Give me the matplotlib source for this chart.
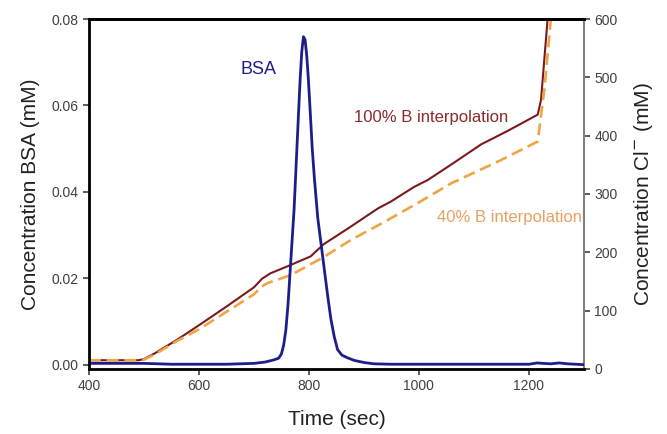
import matplotlib
matplotlib.use("Agg")
import matplotlib.pyplot as plt

plt.rcParams["font.family"] = ["Liberation Sans", "DejaVu Sans"]

# BSA concentration (mM), left axis
bsa_time = [400, 450, 500, 550, 600, 650, 700, 720, 736, 745, 750, 754, 758, 762,
            767, 773, 777, 781, 784, 787, 790, 793, 796, 799, 803, 806, 810, 816,
            822, 828, 834, 840, 846, 852, 860, 870, 882, 900, 918, 950, 1000, 1100,
            1200, 1215, 1225, 1240, 1255, 1270, 1285, 1300]
bsa_val = [0.0003, 0.0003, 0.0003, 0.0001, 0.0001, 0.0001, 0.0003, 0.0006, 0.0011,
           0.0015, 0.0025, 0.0045, 0.008, 0.014, 0.024, 0.036, 0.047, 0.058, 0.066,
           0.0725, 0.0759, 0.0752, 0.0715, 0.066, 0.057, 0.050, 0.043, 0.034, 0.028,
           0.022, 0.016, 0.0105, 0.0065, 0.0035, 0.0022, 0.0016, 0.0010, 0.0005,
           0.0002, 0.0001, 0.0001, 0.0001, 0.0001, 0.0004, 0.0003, 0.0002, 0.0004,
           0.0002, 0.0001, 0.0]

# chloride concentration (mM), right axis
cl100_time = [400, 490, 500, 520, 560, 600, 650, 700, 715, 730, 766, 803, 827, 876,
              925, 949, 991, 1016, 1058, 1113, 1161, 1216, 1222, 1234, 1240]
cl100_val = [15, 15, 17, 27, 50, 75, 107, 140, 155, 164, 178, 193, 214, 244,
             275, 287, 312, 324, 350, 385, 408, 436, 461, 600, 650]

cl40_time = [400, 490, 500, 520, 560, 600, 650, 700, 712, 724, 767, 827, 876, 937,
             997, 1058, 1149, 1216, 1228, 1240]
cl40_val = [15, 15, 16, 25, 48, 68, 98, 128, 140, 147, 161, 192, 221, 252,
            284, 318, 358, 390, 478, 600]

x_ticks = [400, 600, 800, 1000, 1200]
left_ticks = [0.00, 0.02, 0.04, 0.06, 0.08]
right_ticks = [0, 100, 200, 300, 400, 500, 600]

navy = "#1c1f8a"
darkred = "#7a1a1e"
orange = "#f0a445"

fig = plt.figure(figsize=(6.67, 4.34), dpi=100)
ax = fig.add_axes([0.1334, 0.1498, 0.742, 0.8064])
ax2 = ax.twinx()

ax2.plot(cl100_time, cl100_val, color=darkred, lw=1.5)
ax2.plot(cl40_time, cl40_val, color=orange, lw=1.9, dashes=(4.5, 2.2))
ax.plot(bsa_time, bsa_val, color=navy, lw=2.0)

# keep the BSA peak on top of the chloride lines
ax.set_zorder(ax2.get_zorder() + 1)
ax.patch.set_visible(False)

ax.set_xlim(400, 1300)
ax.set_ylim(-0.001, 0.08)
ax2.set_ylim(0, 600)

ax.set_xticks(x_ticks)
ax.set_yticks(left_ticks)
ax.set_yticklabels([f"{v:.2f}" for v in left_ticks])
ax2.set_yticks(right_ticks)

for a in (ax, ax2):
    a.tick_params(direction="out", length=4, width=1.2, labelsize=10,
                  labelcolor="#404040", color="#404040")

ax.spines["left"].set_linewidth(2)
ax.spines["bottom"].set_linewidth(2)
ax.spines["top"].set_linewidth(2)
ax2.spines["top"].set_linewidth(2)
ax2.spines["right"].set_color("#808080")
ax2.spines["right"].set_linewidth(1.5)
ax.spines["right"].set_visible(False)

ax.set_xlabel("Time (sec)", fontsize=15, color="#222222", labelpad=12)
ax.set_ylabel("Concentration BSA (mM)", fontsize=15, color="#222222", labelpad=8)
ax2.set_ylabel("Concentration Cl$^{\\mathsf{-}}$ (mM)", fontsize=15, color="#222222",
               labelpad=10)

ax.text(708, 0.0682, "BSA", color=navy, fontsize=13, ha="center", va="center")
ax.text(1022, 0.0573, "100% B interpolation", color="#8a2a2a", fontsize=12,
        ha="center", va="center")
ax.text(1164, 0.0340, "40% B interpolation", color="#e8a062", fontsize=12,
        ha="center", va="center")

plt.savefig("out.png", dpi=100)
